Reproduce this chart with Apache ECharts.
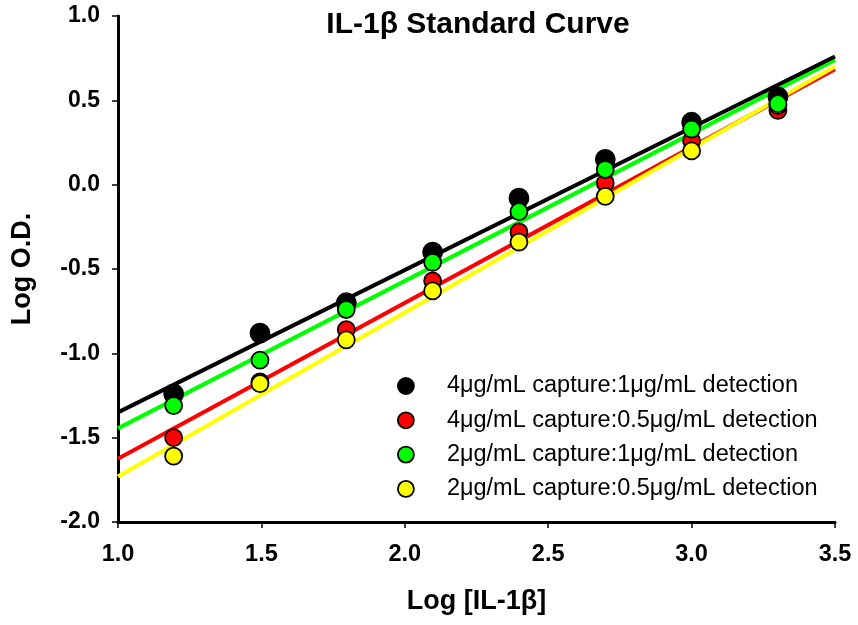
<!DOCTYPE html>
<html>
<head>
<meta charset="utf-8">
<script src="https://cdn.jsdelivr.net/npm/echarts@6/dist/echarts.min.js"></script>
<style>
  html, body { margin: 0; padding: 0; background: #fff; }
  #chart { width: 858px; height: 625px; }
</style>
</head>
<body>
<div id="chart"></div>
<script>
// log of IL-1b concentration (2-fold dilutions)
const logConc = [1.194, 1.495, 1.796, 2.097, 2.398, 2.699, 3.0, 3.301];

// log O.D. readings per condition
const black4to1 = [-1.24, -0.88, -0.70, -0.40, -0.08, 0.15, 0.37, 0.52];
const red4to05 = [-1.50, -1.17, -0.86, -0.57, -0.28, 0.01, 0.26, 0.44];
const green2to1 = [-1.31, -1.04, -0.74, -0.46, -0.16, 0.09, 0.33, 0.48];
const yellow2to05 = [-1.61, -1.18, -0.92, -0.63, -0.34, -0.07, 0.20, 0.47];

// fitted line ends read at x = 1.0 and x = 3.5
const fitX = [1.0, 3.5];
const fitBlack = [-1.35, 0.76];
const fitRed = [-1.625, 0.685];
const fitGreen = [-1.445, 0.74];
const fitYellow = [-1.73, 0.70];

const seriesNames = [
  '4μg/mL capture:1μg/mL detection',
  '4μg/mL capture:0.5μg/mL detection',
  '2μg/mL capture:1μg/mL detection',
  '2μg/mL capture:0.5μg/mL detection'
];
const colors = ['#000000', '#ff0000', '#00ff00', '#ffff00'];
const values = [black4to1, red4to05, green2to1, yellow2to05];
const fits = [fitBlack, fitRed, fitGreen, fitYellow];
// drawing order of markers (green ends up on top)
const markerZ = [3, 4, 6, 5];
const lineZ = [2.4, 2.1, 2.3, 2.2];

const font = 'Arial, "Liberation Sans", sans-serif';

const series = [];
fits.forEach((f, i) => {
  series.push({
    name: 'fit' + i,
    type: 'line',
    data: fitX.map((x, k) => [x, f[k]]),
    showSymbol: false,
    symbol: 'none',
    silent: true,
    z: lineZ[i],
    lineStyle: { color: colors[i], width: 4 }
  });
});
values.forEach((v, i) => {
  series.push({
    name: seriesNames[i],
    type: 'scatter',
    data: logConc.map((x, k) => [x, v[k]]),
    symbol: 'circle',
    symbolSize: i === 0 ? 19 : 17,
    z: markerZ[i],
    itemStyle: {
      color: colors[i],
      borderColor: '#000',
      borderWidth: 1.8,
      opacity: 1
    }
  });
});

const chart = echarts.init(document.getElementById('chart'));
chart.setOption({
  animation: false,
  backgroundColor: '#fff',
  title: {
    text: 'IL-1β Standard Curve',
    left: 473,
    textAlign: 'center',
    top: 5,
    textStyle: { fontFamily: font, fontSize: 30, fontWeight: 'bold', color: '#000' }
  },
  legend: {
    data: seriesNames,
    orient: 'vertical',
    left: 392,
    top: 369,
    itemWidth: 16,
    itemHeight: 16,
    itemGap: 10.3,
    icon: 'circle',
    itemStyle: { borderColor: '#000', borderWidth: 1.8 },
    textStyle: { fontFamily: font, fontSize: 23.5, lineHeight: 24, color: '#000', padding: [0, 0, 0, 28] }
  },
  grid: { left: 118, right: 23, top: 16, bottom: 103 },
  xAxis: {
    type: 'value',
    min: 1,
    max: 3.5,
    interval: 0.5,
    name: 'Log [IL-1β]',
    nameLocation: 'middle',
    nameGap: 66,
    nameTextStyle: { fontFamily: font, fontSize: 27, fontWeight: 'bold', color: '#000' },
    axisLine: { onZero: false, lineStyle: { color: '#000', width: 3 } },
    axisTick: { show: true, length: 6, lineStyle: { color: '#000', width: 1.5 } },
    axisLabel: {
      margin: 21,
      fontFamily: font, fontSize: 23.5, fontWeight: 'bold', color: '#000',
      formatter: v => v.toFixed(1)
    },
    splitLine: { show: false }
  },
  yAxis: {
    type: 'value',
    min: -2,
    max: 1,
    interval: 0.5,
    name: 'Log O.D.',
    nameLocation: 'middle',
    nameGap: 82,
    nameTextStyle: { fontFamily: font, fontSize: 27, fontWeight: 'bold', color: '#000' },
    axisLine: { onZero: false, lineStyle: { color: '#000', width: 3 } },
    axisTick: { show: true, length: 6, lineStyle: { color: '#000', width: 1.5 } },
    axisLabel: {
      margin: 18,
      fontFamily: font, fontSize: 23, fontWeight: 'bold', color: '#000',
      formatter: v => v.toFixed(1)
    },
    splitLine: { show: false }
  },
  series: series
});
</script>
</body>
</html>
